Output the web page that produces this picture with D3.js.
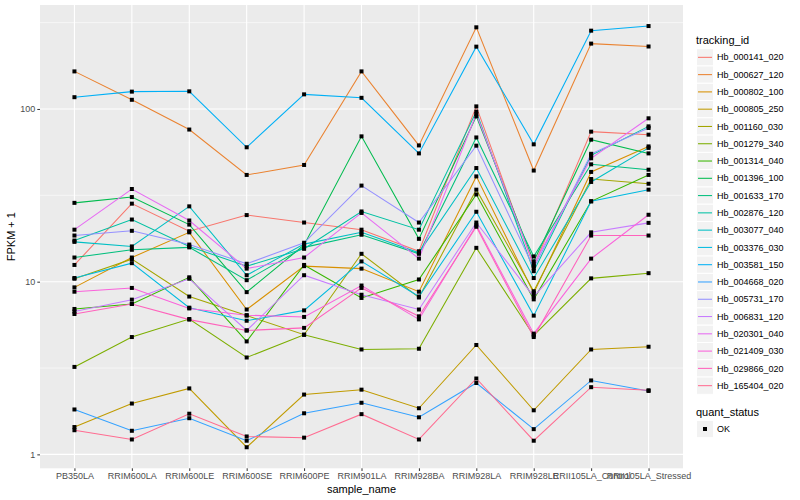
<!DOCTYPE html>
<html>
<head>
<meta charset="utf-8">
<script src="https://cdn.jsdelivr.net/npm/d3@7"></script>
<style>
  body { margin: 0; background: #fff; }
  text { font-family: "Liberation Sans", Arial, sans-serif; }
</style>
</head>
<body>
<svg id="chart" width="800" height="500"></svg>
<script>
// samples on the x axis
const samples = ["PB350LA", "RRIM600LA", "RRIM600LE", "RRIM600SE", "RRIM600PE", "RRIM901LA",
  "RRIM928BA", "RRIM928LA", "RRIM928LE", "RRII105LA_Control", "RRII105LA_Stressed"];

// FPKM + 1 per tracking id, one value per sample
const hb000141020 = [12.5, 28.3, 19.6, 24.3, 22.0, 20.0, 15.0, 103.5, 12.3, 73.9, 71.0];
const hb000627120 = [165, 113, 76, 41.5, 47.4, 165, 61.5, 297, 44, 239, 230];
const hb000802100 = [9.27, 13.8, 19.3, 6.9, 12.3, 11.9, 8.75, 40.7, 8.6, 43.2, 60.7];
const hb000805250 = [1.44, 1.97, 2.41, 1.10, 2.22, 2.37, 1.85, 4.30, 1.80, 4.05, 4.20];
const hb001160030 = [10.4, 13.5, 8.2, 6.36, 4.93, 14.5, 8.1, 34.1, 8.8, 39.3, 36.9];
const hb001279340 = [3.21, 4.78, 6.08, 3.64, 4.93, 4.05, 4.09, 15.7, 4.89, 10.45, 11.2];
const hb001314040 = [6.95, 7.43, 10.6, 4.51, 12.5, 8.05, 10.3, 32.0, 7.9, 29.2, 41.5];
const hb001396100 = [28.6, 30.9, 21.4, 8.7, 16.3, 69.4, 17.7, 90.6, 13.1, 66.4, 55.3];
const hb001633170 = [13.8, 15.3, 15.8, 10.2, 15.8, 18.7, 14.5, 68.4, 14.0, 47.8, 44.5];
const hb002876120 = [17.3, 22.9, 16.0, 12.3, 15.5, 25.5, 20.0, 96.5, 11.5, 53.9, 79.3];
const hb003077040 = [17.0, 16.0, 27.3, 10.9, 16.5, 19.3, 14.7, 45.5, 10.5, 37.8, 59.5];
const hb003376030 = [10.5, 12.8, 7.07, 5.94, 6.82, 13.1, 8.2, 25.4, 6.36, 29.2, 34.1];
const hb003581150 = [117, 126, 126.5, 60, 121.5, 116, 55.3, 229.5, 62.4, 284, 302];
const hb004668020 = [1.82, 1.37, 1.62, 1.20, 1.73, 1.99, 1.64, 2.59, 1.40, 2.68, 2.33];
const hb005731170 = [18.5, 19.7, 16.4, 12.7, 16.8, 36.0, 22.0, 61.3, 12.0, 55.0, 77.6];
const hb006831120 = [6.72, 7.87, 10.4, 5.22, 10.9, 8.4, 6.9, 22.0, 8.2, 19.3, 21.9];
const hb020301040 = [20.0, 34.4, 22.6, 11.9, 13.8, 25.0, 13.6, 93.5, 12.6, 51.8, 88.3];
const hb021409030 = [8.75, 9.2, 7.0, 6.4, 6.25, 9.5, 6.05, 21.2, 5.0, 13.6, 24.4];
const hb029866020 = [6.5, 7.43, 6.03, 5.22, 5.4, 9.2, 6.3, 20.8, 4.78, 18.5, 18.5];
const hb165404020 = [1.38, 1.22, 1.72, 1.27, 1.25, 1.71, 1.22, 2.75, 1.20, 2.45, 2.35];

const trackingIds = ["Hb_000141_020", "Hb_000627_120", "Hb_000802_100", "Hb_000805_250", "Hb_001160_030",
  "Hb_001279_340", "Hb_001314_040", "Hb_001396_100", "Hb_001633_170", "Hb_002876_120", "Hb_003077_040",
  "Hb_003376_030", "Hb_003581_150", "Hb_004668_020", "Hb_005731_170", "Hb_006831_120", "Hb_020301_040",
  "Hb_021409_030", "Hb_029866_020", "Hb_165404_020"];
const seriesValues = [hb000141020, hb000627120, hb000802100, hb000805250, hb001160030,
  hb001279340, hb001314040, hb001396100, hb001633170, hb002876120, hb003077040,
  hb003376030, hb003581150, hb004668020, hb005731170, hb006831120, hb020301040,
  hb021409030, hb029866020, hb165404020];

// ggplot default hue palette for 20 groups
const colors = ["#F8766D", "#EA8331", "#D89000", "#C09B00", "#A3A500", "#7CAE00", "#39B600", "#00BB4E",
  "#00BF7D", "#00C1A3", "#00BFC4", "#00BAE0", "#00B0F6", "#35A2FF", "#9590FF", "#C77CFF", "#E76BF3",
  "#FA62DB", "#FF62BC", "#FF6C91"];

const yTicks = [1, 10, 100];
const yMinor = [Math.sqrt(10), Math.sqrt(1000), Math.sqrt(100000)];

// build rows
const series = trackingIds.map((id, i) => ({
  id: id,
  values: samples.map((s, j) => ({ sample: s, v: seriesValues[i][j] }))
}));

const svg = d3.select("#chart");
const panel = { left: 40, right: 683, top: 5, bottom: 468.3 };

const x = d3.scalePoint()
  .domain(samples)
  .range([panel.left, panel.right])
  .padding(0.6);

// log y with 5% expansion like ggplot
const allVals = seriesValues.flat();
const lo = Math.log10(d3.min(allVals)), hi = Math.log10(d3.max(allVals));
const pad = (hi - lo) * 0.05;
const y = d3.scaleLog()
  .domain([Math.pow(10, lo - pad), Math.pow(10, hi + pad)])
  .range([panel.bottom, panel.top]);

// panel background
svg.append("rect")
  .attr("x", panel.left).attr("y", panel.top)
  .attr("width", panel.right - panel.left).attr("height", panel.bottom - panel.top)
  .attr("fill", "#EBEBEB");

// grid
const grid = svg.append("g");
grid.selectAll(".minor").data(yMinor).join("line")
  .attr("x1", panel.left).attr("x2", panel.right)
  .attr("y1", d => y(d)).attr("y2", d => y(d))
  .attr("stroke", "#fff").attr("stroke-width", 0.55);
grid.selectAll(".major").data(yTicks).join("line")
  .attr("x1", panel.left).attr("x2", panel.right)
  .attr("y1", d => y(d)).attr("y2", d => y(d))
  .attr("stroke", "#fff").attr("stroke-width", 1.1);
grid.selectAll(".vx").data(samples).join("line")
  .attr("x1", d => x(d)).attr("x2", d => x(d))
  .attr("y1", panel.top).attr("y2", panel.bottom)
  .attr("stroke", "#fff").attr("stroke-width", 1.1);

// axes
const yAxis = svg.append("g")
  .attr("transform", `translate(${panel.left},0)`)
  .call(d3.axisLeft(y).tickValues(yTicks).tickFormat(d3.format("d")).tickSize(2.7).tickPadding(2));
const xAxis = svg.append("g")
  .attr("transform", `translate(0,${panel.bottom})`)
  .call(d3.axisBottom(x).tickSize(2.7).tickPadding(2));
[yAxis, xAxis].forEach(a => {
  a.select(".domain").remove();
  a.selectAll(".tick line").attr("stroke", "#333333");
  a.selectAll(".tick text").attr("fill", "#4D4D4D").style("font-size", "9px");
});

// lines
const line = d3.line()
  .x(d => x(d.sample))
  .y(d => y(d.v));

svg.append("g").selectAll("path").data(series).join("path")
  .attr("d", d => line(d.values))
  .attr("fill", "none")
  .attr("stroke", (d, i) => colors[i])
  .attr("stroke-width", 1.05);

// points
svg.append("g").selectAll("g").data(series).join("g")
  .selectAll("rect").data(d => d.values).join("rect")
  .attr("x", d => x(d.sample) - 2)
  .attr("y", d => y(d.v) - 2)
  .attr("width", 4).attr("height", 4)
  .attr("fill", "#000");

// axis titles
svg.append("text")
  .attr("x", (panel.left + panel.right) / 2).attr("y", 493)
  .attr("text-anchor", "middle")
  .style("font-size", "11px")
  .text("sample_name");

svg.append("text")
  .attr("transform", `translate(15,${(panel.top + panel.bottom) / 2}) rotate(-90)`)
  .attr("text-anchor", "middle")
  .style("font-size", "11px")
  .text("FPKM + 1");

// legend: tracking_id
const legend = svg.append("g").attr("transform", "translate(696,0)");
legend.append("text")
  .attr("x", 0).attr("y", 44)
  .style("font-size", "11px")
  .text("tracking_id");

const keyH = 17.28, keyTop = 48.7;
const keys = legend.selectAll(".key").data(trackingIds).join("g")
  .attr("transform", (d, i) => `translate(0,${keyTop + i * keyH})`);
keys.append("rect")
  .attr("x", 0.5).attr("y", 0)
  .attr("width", 17).attr("height", keyH)
  .attr("fill", "#F2F2F2").attr("stroke", "#fff").attr("stroke-width", 1);
keys.append("line")
  .attr("x1", 2).attr("x2", 16)
  .attr("y1", keyH / 2).attr("y2", keyH / 2)
  .attr("stroke", (d, i) => colors[i]).attr("stroke-width", 1.05);
keys.append("text")
  .attr("x", 21).attr("y", keyH / 2)
  .attr("dy", "0.35em")
  .style("font-size", "9px")
  .text(d => d);

// legend: quant_status
legend.append("text")
  .attr("x", 0).attr("y", 416)
  .style("font-size", "11px")
  .text("quant_status");
legend.append("rect")
  .attr("x", 0.5).attr("y", 420.4)
  .attr("width", 17).attr("height", keyH)
  .attr("fill", "#F2F2F2").attr("stroke", "#fff");
legend.append("rect")
  .attr("x", 7).attr("y", 427)
  .attr("width", 4).attr("height", 4)
  .attr("fill", "#000");
legend.append("text")
  .attr("x", 21).attr("y", 429)
  .attr("dy", "0.35em")
  .style("font-size", "9px")
  .text("OK");
</script>
</body>
</html>
